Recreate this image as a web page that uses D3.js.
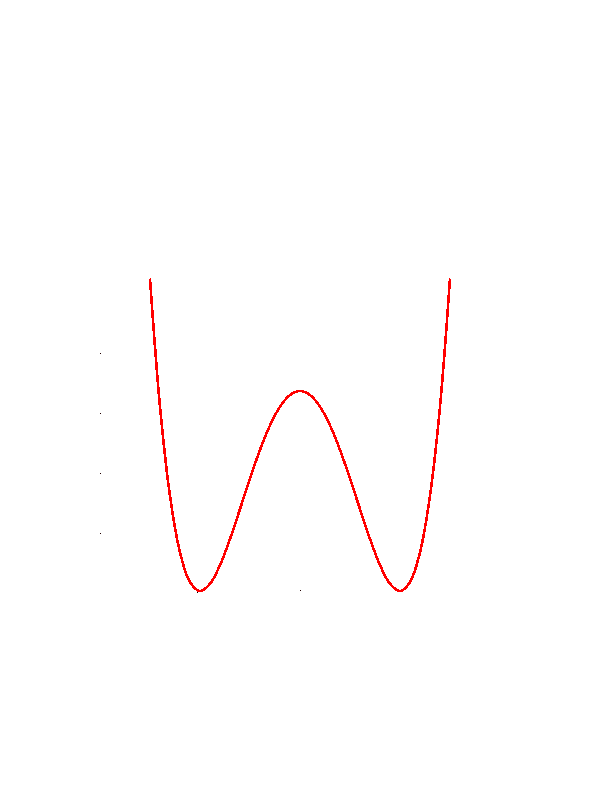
<!DOCTYPE html>
<html>
<head>
<meta charset="utf-8">
<script src="https://cdn.jsdelivr.net/npm/d3@7"></script>
<style>
  html, body { margin: 0; padding: 0; background: #fff; }
  svg { display: block; }
</style>
</head>
<body>
<svg id="chart" width="612" height="792"></svg>
<script>
// Curve samples (double-well shape)
const xValues = [-1.5, -1.4, -1.3, -1.2, -1.1, -1.0, -0.9, -0.8, -0.7, -0.6, -0.5, -0.4, -0.3, -0.2, -0.1, 0.0,
                  0.1, 0.2, 0.3, 0.4, 0.5, 0.6, 0.7, 0.8, 0.9, 1.0, 1.1, 1.2, 1.3, 1.4, 1.5];
const yValues = [1.5625, 0.9216, 0.4761, 0.1936, 0.0441, 0.0, 0.0361, 0.1296, 0.2601, 0.4096, 0.5625, 0.7056, 0.8281, 0.9216, 0.9801, 1.0,
                 0.9801, 0.9216, 0.8281, 0.7056, 0.5625, 0.4096, 0.2601, 0.1296, 0.0361, 0.0, 0.0441, 0.1936, 0.4761, 0.9216, 1.5625];
// faint tick-like dots
const yTickValues = [0.29, 0.59, 0.89, 1.19];
const yTickX = -2.0;
const xTickValues = [0.0];
const xTickY = 0.005;
const markerX = [-1.31, -0.64, -1.03];
const markerY = [0.48, 0.355, 0.0];

const svg = d3.select("#chart");
const x = d3.scaleLinear().domain([-1.5, 1.5]).range([150, 450]);
const y = d3.scaleLinear().domain([0, 1]).range([591, 391]);

const dots = svg.append("g").attr("shape-rendering", "crispEdges");
dots.selectAll("rect.yt").data(yTickValues).join("rect")
  .attr("x", Math.round(x(yTickX))).attr("y", d => Math.round(y(d)))
  .attr("width", 1).attr("height", 1).attr("fill", "#200");
dots.selectAll("rect.xt").data(xTickValues).join("rect")
  .attr("x", d => Math.round(x(d))).attr("y", Math.round(y(xTickY)))
  .attr("width", 1).attr("height", 1).attr("fill", "#200");
dots.selectAll("rect.mk").data(markerX.map((d, i) => [d, markerY[i]])).join("rect")
  .attr("x", d => Math.round(x(d[0]))).attr("y", d => Math.round(y(d[1])))
  .attr("width", 1).attr("height", 2).attr("fill", "#000");

const pts = xValues.map((d, i) => [d, yValues[i]]);
const line = d3.line().x(d => x(d[0])).y(d => y(d[1])).curve(d3.curveCatmullRom.alpha(0.5));
svg.append("path").datum(pts)
  .attr("d", line)
  .attr("fill", "none")
  .attr("stroke", "#ff0000")
  .attr("stroke-width", 2.6)
  .attr("shape-rendering", "crispEdges");
</script>
</body>
</html>
